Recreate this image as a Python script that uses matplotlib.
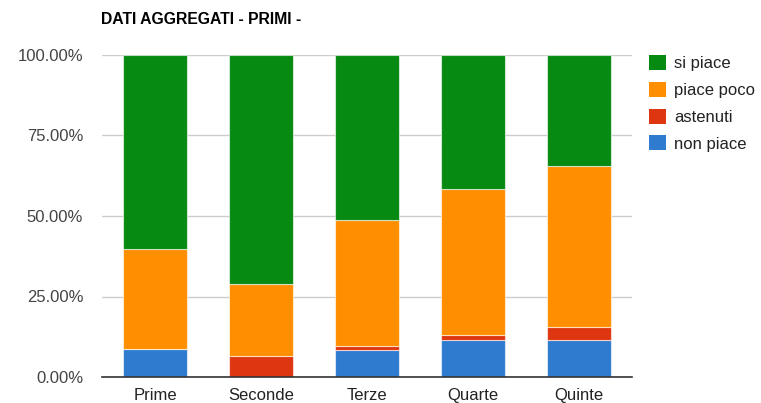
import matplotlib
matplotlib.use("Agg")
import matplotlib.pyplot as plt
from matplotlib.patches import Patch
import numpy as np

categories = ["Prime", "Seconde", "Terze", "Quarte", "Quinte"]
non_piace = [8.8, 0.0, 8.4, 11.6, 11.5]
astenuti = [0.0, 6.6, 1.3, 1.4, 3.9]
piace_poco = [30.9, 22.4, 39.1, 45.4, 50.0]
si_piace = [60.3, 71.0, 51.2, 41.6, 34.6]
yticks = [0, 25, 50, 75, 100]
ytick_labels = ["0.00%", "25.00%", "50.00%", "75.00%", "100.00%"]

series = [
    ("non piace", non_piace, "#2f7bd0"),
    ("astenuti", astenuti, "#de3610"),
    ("piace poco", piace_poco, "#ff8f00"),
    ("si piace", si_piace, "#078a12"),
]

plt.rcParams['font.family'] = ['Liberation Sans', 'DejaVu Sans']

W, H = 761, 403
fig = plt.figure(figsize=(W / 100, H / 100), dpi=100)
ax = fig.add_axes([102 / W, 1 - 377 / H, (632 - 102) / W, (377 - 55) / H])

x = np.arange(len(categories))
bottom = np.zeros(len(categories))
for name, vals, col in series:
    v = np.array(vals)
    ax.bar(x, v, bottom=bottom, width=0.61, color=col, edgecolor=(1, 1, 1, 0.6),
           linewidth=0.8, zorder=3)
    bottom += v

ax.set_xlim(-0.5, len(categories) - 0.5)
ax.set_ylim(0, 100)
ax.set_yticks(yticks)
ax.set_yticklabels(ytick_labels)
ax.set_xticks(x)
ax.set_xticklabels(categories)
ax.tick_params(axis='both', length=0, labelsize=12, colors="#222222")
ax.tick_params(axis='y', pad=13.5)
ax.tick_params(axis='x', pad=8)
for lab in ax.get_yticklabels():
    lab.set_color("#444444")
ax.grid(axis='y', color="#cccccc", linewidth=1, zorder=0)
for s in ["left", "right", "top"]:
    ax.spines[s].set_visible(False)
ax.spines["bottom"].set_color("#333333")
ax.spines["bottom"].set_linewidth(1.2)
ax.spines["bottom"].set_zorder(4)

fig.text(101 / W, 1 - 19 / H, "DATI AGGREGATI - PRIMI -", fontsize=11.3,
         fontweight="bold", color="#000000", va="center", ha="left")

handles = [Patch(facecolor=c, edgecolor="none") for _, _, c in reversed(series)]
labels = [n for n, _, _ in reversed(series)]
fig.legend(handles, labels, loc="upper left", bbox_to_anchor=(649 / W, 1 - 55 / H),
           frameon=False, fontsize=12, handlelength=1.0, handleheight=1.0,
           handletextpad=0.5, labelspacing=0.64, borderaxespad=0, borderpad=0,
           labelcolor="#222222")

fig.savefig("out.png", dpi=100)
